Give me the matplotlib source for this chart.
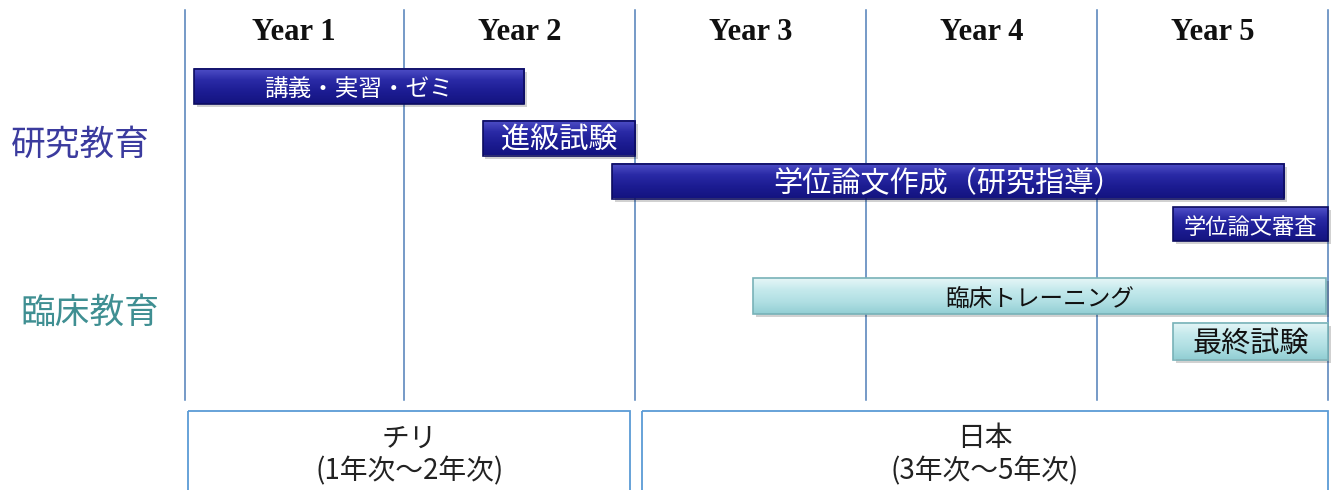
import matplotlib.pyplot as plt
import numpy as np
from matplotlib.patches import Rectangle
from matplotlib.colors import LinearSegmentedColormap

# data: tasks in year units (0 = start of year 1)
tasks = ['講義・実習・ゼミ', '進級試験', '学位論文作成（研究指導）', '学位論文審査',
         '臨床トレーニング', '最終試験']
starts = [0.09, 1.34, 1.90, 4.33, 2.51, 4.33]
ends = [1.52, 2.00, 4.81, 5.00, 4.99, 5.00]
kind = ['research', 'research', 'research', 'research', 'clinical', 'clinical']
year_labels = ['Year 1', 'Year 2', 'Year 3', 'Year 4', 'Year 5']
year_lines = [0.05, 1.0, 2.0, 3.0, 4.0, 5.0]
groups = ['研究教育', '臨床教育']
countries = ['チリ\n(1年次～2年次)', '日本\n(3年次～5年次)']
country_spans = [(0.065, 1.98), (2.03, 5.0)]

# layout (vertical positions in pixel-like units, top = 0)
row_y = [87, 138, 181, 224, 296, 341]
row_h = [35, 35, 35, 34, 36, 37]
font_sz = [17, 21, 21, 16, 17, 21]
group_y = [145, 313]
group_x = [-0.40, -0.36]

plt.rcParams['font.family'] = ['Noto Sans CJK JP', 'DejaVu Sans']

fig = plt.figure(figsize=(13.35, 4.9), dpi=100)
ax = fig.add_axes([0, 0, 1, 1])
ax.set_xlim(-0.749, 5.03)
ax.set_ylim(490, 0)
ax.axis('off')

line_col = '#4f7fb8'
for xl in year_lines:
    ax.plot([xl, xl], [10, 400], color=line_col, lw=1.1, zorder=1)

for i, lab in enumerate(year_labels):
    ax.text((year_lines[i] + year_lines[i + 1]) / 2, 33, lab, ha='center', va='center',
            fontsize=22, fontweight='bold', family='Liberation Serif', color='#111111')

styles = {
    'research': dict(cmap=['#5050c8', '#2a2aa6', '#1c1c92', '#141480'], edge='#0c0c60',
                     text='white'),
    'clinical': dict(cmap=['#e6f6f7', '#c4e9ec', '#b0dfe3', '#93cfd4'], edge='#78b2b8',
                     text='#111111'),
}

grad = np.linspace(0, 1, 64).reshape(-1, 1)
for t, s, e, k, y, h, fs in zip(tasks, starts, ends, kind, row_y, row_h, font_sz):
    st = styles[k]
    cm = LinearSegmentedColormap.from_list(k, st['cmap'])
    # shadow
    ax.add_patch(Rectangle((s + 0.012, y - h / 2 + 3), e - s, h, color='#000000',
                           alpha=0.18, lw=0, zorder=2))
    ax.imshow(grad, cmap=cm, aspect='auto', extent=(s, e, y + h / 2, y - h / 2),
              zorder=3, interpolation='bilinear')
    ax.add_patch(Rectangle((s, y - h / 2), e - s, h, fill=False, edgecolor=st['edge'],
                           lw=1.2, zorder=4))
    ax.text((s + e) / 2, y + 3, t, ha='center', va='center', fontsize=fs,
            color=st['text'], zorder=5)

group_cols = ['#3b3b9e', '#3f8f92']
for g, gy, gx, c in zip(groups, group_y, group_x, group_cols):
    ax.text(gx, gy, g, ha='center', va='center', fontsize=25, color=c)

for txt, (a, b) in zip(countries, country_spans):
    ax.add_patch(Rectangle((a, 411), b - a, 90, fill=False, edgecolor='#5b9bd5',
                           lw=1.3, zorder=2))
    ax.text((a + b) / 2, 455, txt, ha='center', va='center', fontsize=20,
            color='#222222', linespacing=1.15)

fig.savefig('out.png', dpi=100)
